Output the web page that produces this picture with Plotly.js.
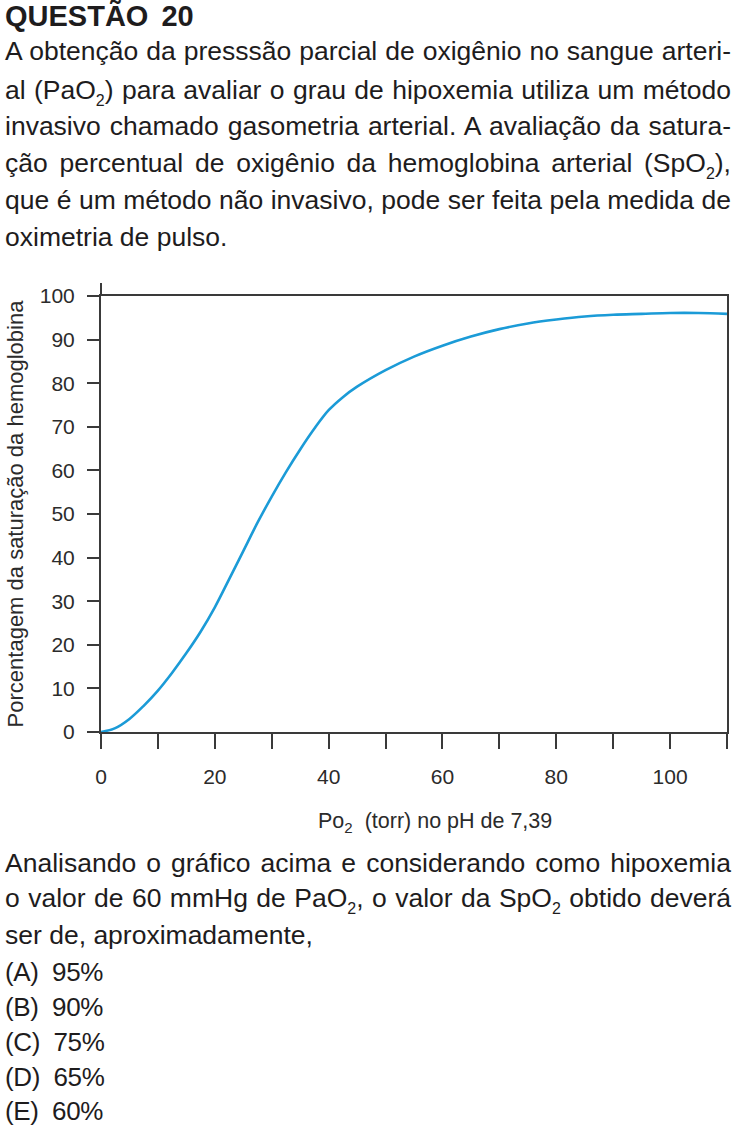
<!DOCTYPE html>
<html>
<head>
<meta charset="utf-8">
<script src="https://cdn.plot.ly/plotly-3.0.1.min.js"></script>
<style>
  html, body { margin:0; padding:0; background:#fff; }
  body { width:738px; height:1141px; position:relative; overflow:hidden;
         font-family:"Liberation Sans", Arial, sans-serif; color:#1e1c1d; }
  .ln { position:absolute; left:5px; font-size:26.5px; line-height:30px; white-space:nowrap; }
  .t { font-weight:bold; font-size:29px; word-spacing:5px; }
  .opt { font-size:26px; letter-spacing:-0.4px; white-space:pre; }
  sub { font-size:16px; vertical-align:-7px; line-height:0; letter-spacing:0; word-spacing:0; }
  #chart { position:absolute; left:0; top:260px; width:738px; height:600px; }
</style>
</head>
<body>
<div class="ln t" style="top:1px">QUESTÃO 20</div>
<div class="ln j" style="top:36px">A obtenção da presssão parcial de oxigênio no sangue arteri-</div>
<div class="ln j" style="top:75px">al (PaO<sub>2</sub>) para avaliar o grau de hipoxemia utiliza um método</div>
<div class="ln j" style="top:111px">invasivo chamado gasometria arterial. A avaliação da satura-</div>
<div class="ln j" style="top:148px">ção percentual de oxigênio da hemoglobina arterial (SpO<sub>2</sub>),</div>
<div class="ln j" style="top:185px">que é um método não invasivo, pode ser feita pela medida de</div>
<div class="ln" style="top:222px">oximetria de pulso.</div>

<div id="chart"></div>

<div class="ln j" style="top:848px">Analisando o gráfico acima e considerando como hipoxemia</div>
<div class="ln j" style="top:883px">o valor de 60 mmHg de PaO<sub>2</sub>, o valor da SpO<sub>2</sub> obtido deverá</div>
<div class="ln" style="top:920px">ser de, aproximadamente,</div>
<div class="ln opt" style="top:957px">(A)  95%</div>
<div class="ln opt" style="top:992px">(B)  90%</div>
<div class="ln opt" style="top:1027px">(C)  75%</div>
<div class="ln opt" style="top:1062px">(D)  65%</div>
<div class="ln opt" style="top:1096px">(E)  60%</div>

<script>
// Fit justified lines exactly to the text block width (5px .. 731px)
(function () {
  const target = 726;
  document.querySelectorAll('.ln.j').forEach(function (el) {
    const spaces = (el.textContent.match(/ /g) || []).length;
    const w = el.getBoundingClientRect().width;
    if (spaces > 0) el.style.wordSpacing = ((target - w) / spaces).toFixed(2) + 'px';
  });
})();

// Data (PO2 in torr, % saturation)
const po2 = [0, 2.5, 5, 7.5, 10, 12.5, 15, 17.5, 20, 22.5, 25, 27.5, 30, 32.5, 35, 37.5, 40, 42.5, 45, 50, 55, 60, 65, 70, 75, 80, 85, 90, 95, 100, 105, 110];
const sat = [0, 0.9, 3.0, 6.0, 9.5, 13.6, 18.1, 23, 28.6, 35, 41.5, 48, 54, 59.6, 64.8, 69.6, 73.8, 76.8, 79.2, 83, 86.1, 88.6, 90.7, 92.4, 93.7, 94.6, 95.3, 95.7, 95.9, 96.1, 96.1, 95.9];

const xTickVals = [0, 20, 40, 60, 80, 100];
const xTickText = ['0', '20', '40', '60', '80', '100'];
const xMinorVals = [10, 30, 50, 70, 90, 110];
const yTickVals = [0, 10, 20, 30, 40, 50, 60, 70, 80, 90, 100];

const xTitle = 'Po<sub>2</sub>  (torr) no pH de 7,39';
const yTitle = 'Porcentagem da saturação da hemoglobina';

const axisColor = '#3a3a3a';
const textColor = '#2b2b2b';

const trace = {
  x: po2, y: sat, type: 'scatter', mode: 'lines',
  line: { color: '#1b9bd7', width: 2.6, shape: 'spline', smoothing: 1 },
  hoverinfo: 'skip'
};

const layout = {
  width: 738, height: 600,
  margin: { l: 101, r: 11, t: 36, b: 128 },
  paper_bgcolor: 'rgba(0,0,0,0)', plot_bgcolor: 'rgba(0,0,0,0)',
  showlegend: false,
  font: { family: '"Liberation Sans", Arial, sans-serif', color: textColor, size: 21 },
  xaxis: {
    range: [0, 110], tickmode: 'array', tickvals: xTickVals, ticktext: xTickText,
    ticks: 'outside', ticklen: 15, tickwidth: 2, tickcolor: axisColor,
    minor: { tickmode: 'array', tickvals: xMinorVals, ticks: 'outside', ticklen: 15, tickwidth: 2, tickcolor: axisColor, showgrid: false },
    showline: true, linecolor: axisColor, linewidth: 2, mirror: true,
    showgrid: false, zeroline: false, ticklabelstandoff: 10,
    tickfont: { size: 21, color: textColor }
  },
  yaxis: {
    range: [0, 100], tickmode: 'array', tickvals: yTickVals,
    ticks: 'outside', ticklen: 12, tickwidth: 2, tickcolor: axisColor,
    showline: true, linecolor: axisColor, linewidth: 2, mirror: true,
    showgrid: false, zeroline: false, ticklabelstandoff: 8,
    tickfont: { size: 21, color: textColor },
    title: { text: yTitle, font: { size: 22, color: textColor }, standoff: 10 }
  },
  shapes: [
    { type: 'line', xref: 'paper', yref: 'paper', x0: 0, x1: 0, y0: 1, y1: 1.03,
      line: { color: axisColor, width: 2 } }
  ],
  annotations: [
    { text: xTitle, xref: 'paper', yref: 'paper', x: 0.5, y: 0, xanchor: 'center', yanchor: 'middle',
      xshift: 21, yshift: -90, showarrow: false, font: { size: 21.5, color: textColor } }
  ]
};

Plotly.newPlot('chart', [trace], layout, { staticPlot: true, displayModeBar: false });
</script>
</body>
</html>
